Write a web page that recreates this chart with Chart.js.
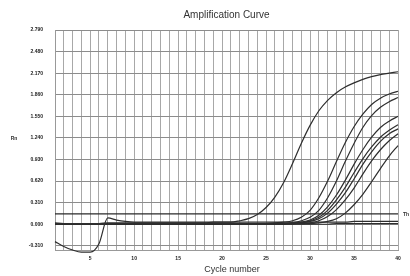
<!DOCTYPE html>
<html>
<head>
<meta charset="utf-8">
<script src="https://cdn.jsdelivr.net/npm/chart.js@4/dist/chart.umd.min.js"></script>
<style>
html,body{margin:0;padding:0;background:#fff;}
#wrap{width:410px;height:276px;position:relative;}
</style>
</head>
<body>
<div id="wrap"><canvas id="c" width="410" height="276"></canvas></div>
<script>
const cycles = [1,2,3,4,5,6,7,8,9,10,11,12,13,14,15,16,17,18,19,20,21,22,23,24,25,26,27,28,29,30,31,32,33,34,35,36,37,38,39,40];
const yTicks = [-0.31,0,0.31,0.62,0.93,1.24,1.55,1.86,2.17,2.48,2.79];
const xTickLabels = [5,10,15,20,25,30,35,40];
const threshold = 0.15;

const curveA = [0.02,0.01,0.01,0.01,0.01,0.01,0.02,0.02,0.02,0.02,0.02,0.02,0.02,0.02,0.02,0.02,0.02,0.02,0.03,0.03,0.03,0.05,0.08,0.14,0.24,0.39,0.60,0.87,1.16,1.42,1.63,1.78,1.89,1.97,2.03,2.08,2.12,2.15,2.17,2.19];
const curveB = [0.01,0.01,0.01,0.01,0.01,0.01,0.01,0.01,0.01,0.01,0.01,0.01,0.01,0.01,0.01,0.01,0.01,0.01,0.01,0.01,0.01,0.01,0.01,0.01,0.01,0.02,0.03,0.05,0.10,0.20,0.38,0.62,0.90,1.17,1.40,1.58,1.72,1.81,1.87,1.91];
const curveC = [0.00,0.00,0.00,0.00,0.00,0.00,0.00,0.00,0.00,0.00,0.00,0.00,0.00,0.00,0.00,0.00,0.00,0.00,0.00,0.00,0.00,0.00,0.00,0.00,0.00,0.00,0.01,0.02,0.05,0.10,0.20,0.38,0.62,0.90,1.16,1.39,1.56,1.68,1.76,1.82];
const curveD = [0.01,0.01,0.01,0.01,0.01,0.01,0.01,0.01,0.01,0.01,0.01,0.01,0.01,0.01,0.01,0.01,0.01,0.01,0.01,0.01,0.01,0.01,0.01,0.01,0.01,0.01,0.01,0.02,0.03,0.06,0.13,0.25,0.42,0.63,0.86,1.07,1.25,1.39,1.48,1.55];
const curveE = [0.00,0.00,0.00,0.00,0.00,0.00,0.00,0.00,0.00,0.00,0.00,0.00,0.00,0.00,0.00,0.00,0.00,0.00,0.00,0.00,0.00,0.00,0.00,0.00,0.00,0.00,0.01,0.01,0.02,0.05,0.10,0.20,0.35,0.53,0.74,0.94,1.11,1.25,1.35,1.43];
const curveF = [0.01,0.01,0.01,0.01,0.01,0.01,0.01,0.01,0.01,0.01,0.01,0.01,0.01,0.01,0.01,0.01,0.01,0.01,0.01,0.01,0.01,0.01,0.01,0.01,0.01,0.01,0.01,0.01,0.02,0.04,0.08,0.16,0.29,0.45,0.65,0.86,1.04,1.19,1.30,1.37];
const curveG = [0.00,0.00,0.00,0.00,0.00,0.00,0.00,0.00,0.00,0.00,0.00,0.00,0.00,0.00,0.00,0.00,0.00,0.00,0.00,0.00,0.00,0.00,0.00,0.00,0.00,0.00,0.00,0.01,0.01,0.02,0.05,0.11,0.21,0.35,0.52,0.72,0.91,1.07,1.20,1.30];
const curveH = [0.01,0.01,0.01,0.01,0.01,0.01,0.01,0.01,0.01,0.01,0.01,0.01,0.01,0.01,0.01,0.01,0.01,0.01,0.01,0.01,0.01,0.01,0.01,0.01,0.01,0.01,0.01,0.01,0.01,0.01,0.02,0.04,0.08,0.16,0.28,0.43,0.61,0.80,0.98,1.13];
const curveDip = [-0.25,-0.32,-0.37,-0.40,-0.40,-0.28,0.09,0.06,0.04,0.03,0.03,0.03,0.03,0.03,0.03,0.03,0.03,0.03,0.03,0.03,0.03,0.03,0.03,0.03,0.03,0.03,0.03,0.03,0.03,0.03,0.03,0.03,0.03,0.03,0.04,0.04,0.04,0.04,0.04,0.04];
const curveNeg = [0.00,0.00,0.00,0.00,0.00,0.00,0.00,0.00,0.00,0.00,0.00,0.00,0.00,0.00,0.00,0.00,0.00,0.00,0.00,0.00,0.00,0.00,0.00,0.00,0.00,0.00,0.00,0.00,0.00,0.00,0.00,0.00,0.01,0.01,0.01,0.01,0.01,0.01,0.01,0.01];

const series = [curveA,curveB,curveC,curveD,curveE,curveF,curveG,curveH,curveDip,curveNeg];

const datasets = series.map(arr => ({
  data: cycles.map((c,i)=>({x:c,y:arr[i]})),
  borderColor:'#2e2e2e',
  borderWidth:1.2,
  pointRadius:0,
  cubicInterpolationMode:'monotone',
  fill:false,
  clip:false
}));
datasets.push({
  data:[{x:cycles[0],y:threshold},{x:cycles[cycles.length-1],y:threshold}],
  borderColor:'#2a2a2a',
  borderWidth:1.3,
  pointRadius:0,
  fill:false
});

const textPlugin = {
  id:'texts',
  afterDraw(chart){
    const ctx = chart.ctx, a = chart.chartArea;
    ctx.save();
    ctx.fillStyle = '#333';
    ctx.textAlign = 'center';
    ctx.textBaseline = 'middle';
    ctx.font = '10px "Liberation Sans", Arial, sans-serif';
    ctx.fillText('Amplification Curve', (a.left+a.right)/2, 15);
    ctx.font = '9px "Liberation Sans", Arial, sans-serif';
    ctx.fillText('Cycle number', 232, 270);
    ctx.font = 'bold 5px "Liberation Sans", Arial, sans-serif';
    ctx.fillText('Rn', 14, 139);
    ctx.textAlign = 'left';
    const ty = chart.scales.y.getPixelForValue(threshold);
    ctx.fillText('Th', a.right+5, ty+1);
    ctx.restore();
  }
};

new Chart(document.getElementById('c'), {
  type:'line',
  data:{datasets},
  options:{
    responsive:false,
    animation:false,
    events:[],
    layout:{padding:{top:30,right:12,left:0,bottom:0}},
    plugins:{legend:{display:false},tooltip:{enabled:false},title:{display:false}},
    scales:{
      x:{
        type:'linear', min:1, max:40,
        afterBuildTicks(s){ s.ticks = cycles.map(v=>({value:v})); },
        afterFit(s){ s.height = 26; },
        grid:{color:'#a8a8a8', lineWidth:1, drawTicks:false},
        border:{color:'#999'},
        ticks:{
          autoSkip:false, maxRotation:0, padding:6, color:'#222',
          font:{size:5, weight:'bold', family:'"Liberation Sans", Arial, sans-serif'},
          callback:(v)=> xTickLabels.includes(v) ? String(v) : ''
        }
      },
      y:{
        type:'linear', min:-0.37, max:2.79,
        afterBuildTicks(s){ s.ticks = yTicks.map(v=>({value:v})); },
        afterFit(s){ s.width = 55; },
        grid:{color:'#8c8c8c', lineWidth:1, drawTicks:false},
        border:{color:'#999'},
        ticks:{
          padding:12, color:'#222',
          font:{size:5, weight:'bold', family:'"Liberation Sans", Arial, sans-serif'},
          callback:(v)=> Number(v).toFixed(3)
        }
      }
    }
  },
  plugins:[textPlugin]
});
</script>
</body>
</html>
